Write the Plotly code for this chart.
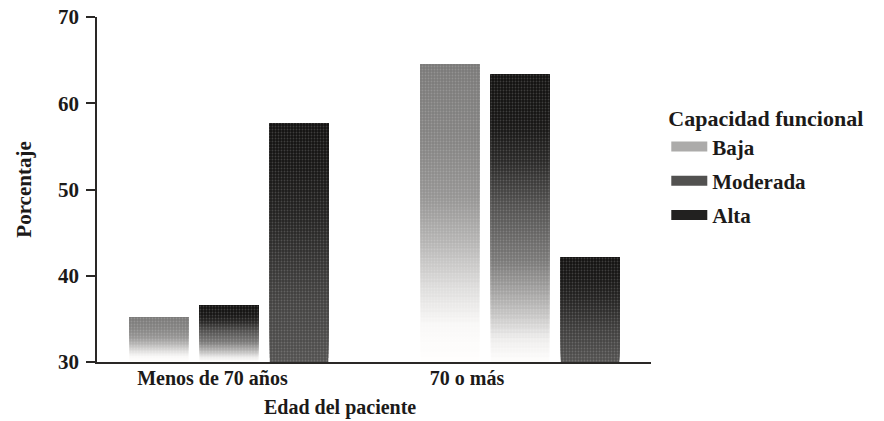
import numpy as np
import plotly.graph_objects as go

# ---- data -------------------------------------------------------------
categories = ["Menos de 70 años", "70 o más"]
series_names = ["Baja", "Moderada", "Alta"]
baja = [35.2, 64.5]
moderada = [36.6, 63.3]
alta = [57.7, 42.1]
y_ticks = [30, 40, 50, 60, 70]
axis_floor = 30

values = {"Baja": baja, "Moderada": moderada, "Alta": alta}

# ---- style ------------------------------------------------------------
FONT = "Liberation Serif"
INK = "#1c1a19"
AXIS = "#2a2826"

# grey ramps per series: (fraction of bar height above the floor, grey level)
ramps = {
    "Baja": [(0.0, 255), (0.12, 250), (0.25, 222), (0.40, 182), (0.55, 150), (0.75, 132), (1.0, 122)],
    "Moderada": [(0.0, 255), (0.08, 238), (0.20, 182), (0.35, 122), (0.55, 80), (0.70, 40), (0.82, 22), (1.0, 17)],
    "Alta": [(0.0, 82), (0.30, 64), (0.60, 36), (0.80, 23), (1.0, 18)],
}
legend_swatch = {"Baja": "rgb(172,171,170)", "Moderada": "rgb(82,81,80)", "Alta": "rgb(34,33,32)"}


def grey(name, frac):
    xs, gs = zip(*ramps[name])
    g = int(round(np.interp(frac, xs, gs)))
    return f"rgb({g},{g - 1},{max(g - 2, 0)})"


x_pos = [0, 1]                 # bar group centres
label_pos = [-0.057, 0.818]    # where the category names sit under the axis
N = 60                         # slices used to shade each bar

fig = go.Figure()
for name in series_names:
    vals = values[name]
    for k in range(N):
        f0 = k / N
        bases = [axis_floor + f0 * (v - axis_floor) for v in vals]
        heights = [v - b for v, b in zip(vals, bases)]
        fig.add_trace(go.Bar(
            x=x_pos, y=heights, base=bases,
            offsetgroup=name, legendgroup=name, name=name,
            showlegend=False,
            marker=dict(
                color=grey(name, (k + 0.5) / N), line=dict(width=0),
                pattern=dict(shape=".", fgcolor="white", fgopacity=0.18, size=3, solidity=0.3),
            ),
            customdata=vals,
            hovertemplate=name + ": %{customdata}%<extra></extra>",
        ))
    # legend key: a wide flat swatch
    fig.add_trace(go.Scatter(
        x=[None], y=[None], mode="lines", name=name, legendgroup=name,
        line=dict(color=legend_swatch[name], width=12), showlegend=True,
        hoverinfo="skip",
    ))

fig.update_layout(
    width=884, height=421,
    margin=dict(l=97, r=233, t=17, b=59, autoexpand=False),
    paper_bgcolor="white", plot_bgcolor="white",
    barmode="group", bargap=0.278, bargroupgap=0.164,
    font=dict(family=FONT, size=20, color=INK, weight="bold"),
    showlegend=True,
    legend=dict(
        title=dict(text="Capacidad funcional", font=dict(size=22, weight="bold")),
        font=dict(size=21, weight="bold"),
        x=1.0276, xanchor="left", y=0.766, yanchor="top",
        traceorder="grouped", tracegroupgap=4, itemwidth=36,
        bgcolor="rgba(0,0,0,0)",
    ),
    xaxis=dict(
        range=[-0.4536, 1.450],
        tickvals=label_pos, ticktext=categories,
        tickfont=dict(size=20, weight="bold"),
        ticks="", ticklabelstandoff=-3,
        showline=True, linecolor=AXIS, linewidth=2,
        showgrid=False, zeroline=False, fixedrange=True,
    ),
    yaxis=dict(
        range=[30, 70], tickvals=y_ticks,
        tickfont=dict(size=21, weight="bold"),
        ticks="outside", ticklen=9, tickwidth=1.5, tickcolor=AXIS,
        ticklabelstandoff=3,
        showline=True, linecolor=AXIS, linewidth=1.5,
        showgrid=False, zeroline=False,
        title=dict(text="Porcentaje", standoff=21, font=dict(size=21, weight="bold")),
    ),
    annotations=[dict(
        text="Edad del paciente", xref="paper", yref="paper",
        x=0.4386, y=-0.133, xanchor="center", yanchor="middle",
        showarrow=False, font=dict(size=20, weight="bold"),
    )],
)

fig.write_html("out.html")
